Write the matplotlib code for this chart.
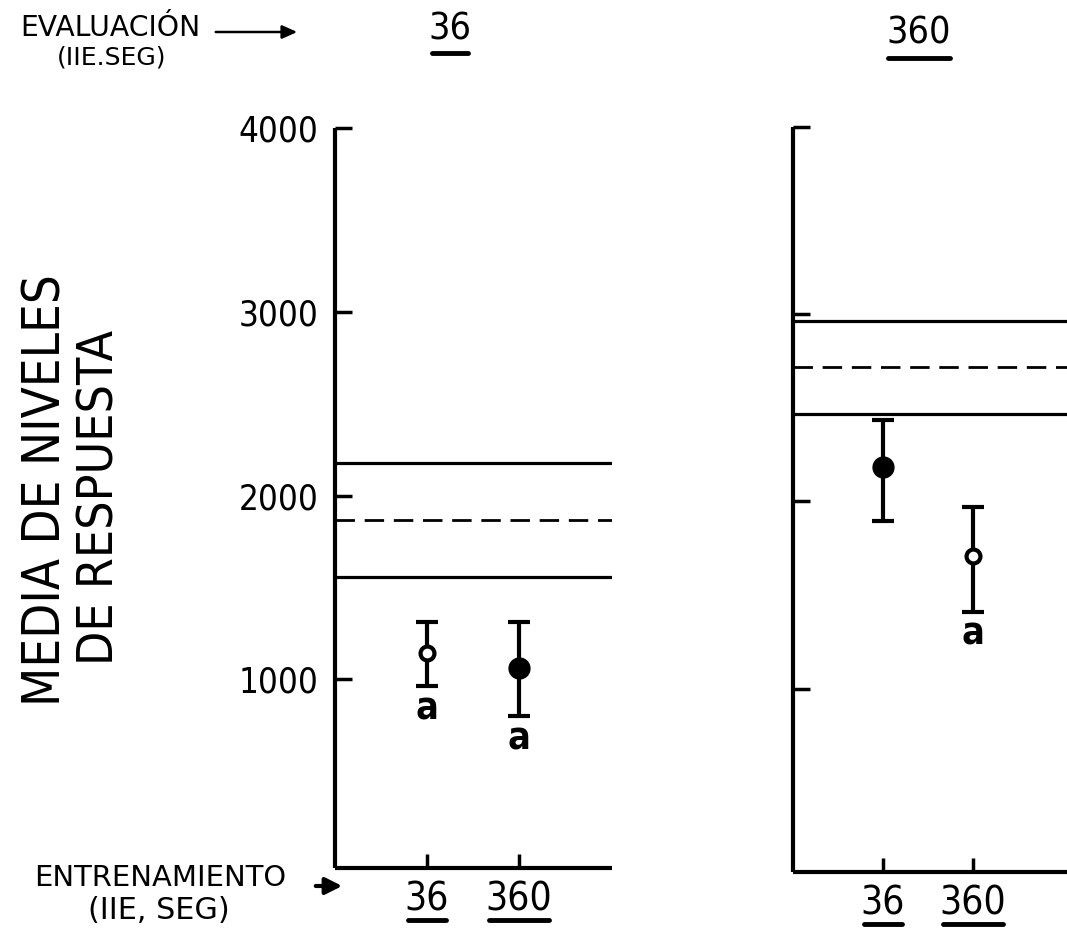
import matplotlib
matplotlib.use("Agg")
import matplotlib.pyplot as plt
from matplotlib import font_manager as fm
from matplotlib.lines import Line2D
from matplotlib.patches import FancyArrowPatch

# ---------------- data ----------------
training_labels = ["36", "360"]          # entrenamiento (IIE, seg)
evaluation_labels = ["36", "360"]        # evaluacion (IIE, seg)
yticks = [1000, 2000, 3000, 4000]

# left panel (evaluation 36)
left_means = [1142, 1060]
left_upper = [1311, 1311]
left_lower = [962, 798]
left_filled = [False, True]
left_sig = ["a", "a"]
left_band = [1557, 1869, 2175]   # lower limit, mean, upper limit

# right panel (evaluation 360)
right_means = [2182, 1711]
right_upper = [2433, 1968]
right_lower = [1893, 1412]
right_filled = [True, False]
right_sig = ["", "a"]
right_band = [2465, 2717, 2963]

# ---------------- fonts ----------------
def weight_num(w):
    if isinstance(w, int):
        return w
    return {"bold": 700, "normal": 400, "regular": 400}.get(str(w).lower(), 400)


def find_condensed(want_weight):
    best = None
    for f in fm.fontManager.ttflist:
        nm = f.name
        cond = ("Narrow" in nm or "Condensed" in nm or
                str(f.stretch) in ("condensed", "semi-condensed", "extra-condensed"))
        if not cond or "Mono" in nm or "Serif" in nm or f.style != "normal":
            continue
        if weight_num(f.weight) == want_weight:
            return f
        if best is None:
            best = f
    return best

cf = find_condensed(400)
cb = find_condensed(700)
NARROW = fm.FontProperties(fname=cf.fname) if cf is not None else fm.FontProperties(family="DejaVu Sans")
if cb is not None and weight_num(cb.weight) == 700:
    BOLD = fm.FontProperties(fname=cb.fname)
else:
    BOLD = fm.FontProperties(family="DejaVu Sans", weight="bold")
PLAIN = fm.FontProperties(family="DejaVu Sans")

W, H = 1067, 930
fig = plt.figure(figsize=(W / 100, H / 100), dpi=100)


def rect(x0, y_top, x1, y_bot):
    return [x0 / W, 1 - y_bot / H, (x1 - x0) / W, (y_bot - y_top) / H]


ax1 = fig.add_axes(rect(335, 128, 612, 868))
ax2 = fig.add_axes(rect(793, 127, 1072, 872))
ax1.set_ylim(-27, 4000)
ax2.set_ylim(21, 4000)
ax1.set_xlim(0, 3.01)
ax2.set_xlim(0, 3.1)

fit_list = []   # (artist, target_px, 'w' or 'h')


def draw_panel(ax, means, upper, lower, filled, sig, band, show_ylabels):
    for s in ["top", "right"]:
        ax.spines[s].set_visible(False)
    for s in ["left", "bottom"]:
        ax.spines[s].set_linewidth(3)
        ax.spines[s].set_capstyle("butt")
    ax.set_yticks(yticks)
    ax.tick_params(axis="y", direction="in", length=12, width=2.5,
                   pad=12, labelleft=show_ylabels)
    ax.set_xticks([1, 2])
    ax.set_xticklabels(training_labels)
    ax.tick_params(axis="x", direction="in", length=10, width=2.5, pad=9)
    for lab in ax.get_xticklabels() + ax.get_yticklabels():
        lab.set_fontproperties(NARROW)

    # reference band
    ax.axhline(band[0], color="black", lw=2.3, zorder=1)
    ax.axhline(band[2], color="black", lw=2.3, zorder=1)
    ax.axhline(band[1], color="black", lw=2.0, ls=(0, (7, 3.5)), zorder=1)

    xs = [1, 2]
    for x, m, up, lo, f, sg in zip(xs, means, upper, lower, filled, sig):
        ax.errorbar([x], [m], yerr=[[m - lo], [up - m]], fmt="none",
                    ecolor="black", elinewidth=3, capsize=8, capthick=3,
                    zorder=2)
        if f:
            ax.plot([x], [m], "o", ms=15, mfc="black", mec="black",
                    mew=1, zorder=3)
        else:
            ax.plot([x], [m], "o", ms=10, mfc="white", mec="black",
                    mew=3, zorder=3)
        if sg:
            t = ax.annotate(sg, xy=(x, lo), xytext=(0, -24),
                            textcoords="offset points", ha="center",
                            va="baseline", fontproperties=BOLD)
            t.set_fontsize(27)


draw_panel(ax1, left_means, left_upper, left_lower, left_filled, left_sig,
           left_band, True)
draw_panel(ax2, right_means, right_upper, right_lower, right_filled, right_sig,
           right_band, False)


def ftext(px, py, s, fp, fs, **kw):
    t = fig.text(px / W, 1 - py / H, s, fontproperties=fp, **kw)
    t.set_fontsize(fs)
    return t


def fline(x0, x1, py, lw=3.5):
    fig.add_artist(Line2D([x0 / W, x1 / W], [1 - py / H, 1 - py / H],
                          transform=fig.transFigure, color="black", lw=lw,
                          solid_capstyle="round"))


# y axis title
t = ftext(47, 490, "MEDIA DE NIVELES", NARROW, 40, rotation=90, ha="center",
          va="center")
fit_list.append((t, 430, "h"))
t = ftext(100, 497, "DE RESPUESTA", NARROW, 40, rotation=90, ha="center",
          va="center")
fit_list.append((t, 335, "h"))

# evaluation header
t = ftext(20, 28, "EVALUACIÓN", PLAIN, 19, ha="left", va="center")
fit_list.append((t, 180, "w"))
t = ftext(112, 57, "(IIE.SEG)", PLAIN, 17, ha="center", va="center")
fit_list.append((t, 110, "w"))
fig.add_artist(FancyArrowPatch(
    (213 / W, 1 - 32 / H), (300 / W, 1 - 32 / H), transform=fig.transFigure,
    arrowstyle="-|>,head_length=9,head_width=4", color="black", lw=1.8,
    mutation_scale=1))
ftext(450, 29, evaluation_labels[0], NARROW, 27, ha="center", va="center")
fline(432, 468, 53)
ftext(919, 34, evaluation_labels[1], NARROW, 27, ha="center", va="center")
fline(888, 950, 58)

# training header
t = ftext(160, 878, "ENTRENAMIENTO", PLAIN, 19, ha="center", va="center")
fit_list.append((t, 252, "w"))
t = ftext(159, 910, "(IIE, SEG)", PLAIN, 19, ha="center", va="center")
fit_list.append((t, 142, "w"))
fig.add_artist(FancyArrowPatch(
    (313 / W, 1 - 886 / H), (345 / W, 1 - 886 / H), transform=fig.transFigure,
    arrowstyle="-|>,head_length=10,head_width=5", color="black", lw=3,
    mutation_scale=1))

# tick label sizes
for ax in (ax1, ax2):
    for l in ax.get_yticklabels():
        l.set_fontsize(25)
    for l in ax.get_xticklabels():
        l.set_fontsize(28)

fig.canvas.draw()
renderer = fig.canvas.get_renderer()
for art, target, dim in fit_list:
    bb = art.get_window_extent(renderer)
    size = bb.width if dim == "w" else bb.height
    art.set_fontsize(art.get_fontsize() * target / max(size, 1))

# underline x tick labels
fig.canvas.draw()
renderer = fig.canvas.get_renderer()
for ax in (ax1, ax2):
    for lab in ax.get_xticklabels():
        bb = lab.get_window_extent(renderer)
        y = bb.y0 - 1
        fig.add_artist(Line2D([bb.x0 / W + 0.003, bb.x1 / W - 0.003],
                              [y / H, y / H], transform=fig.transFigure,
                              color="black", lw=3.5, solid_capstyle="round"))

fig.savefig("out.png", dpi=100)
